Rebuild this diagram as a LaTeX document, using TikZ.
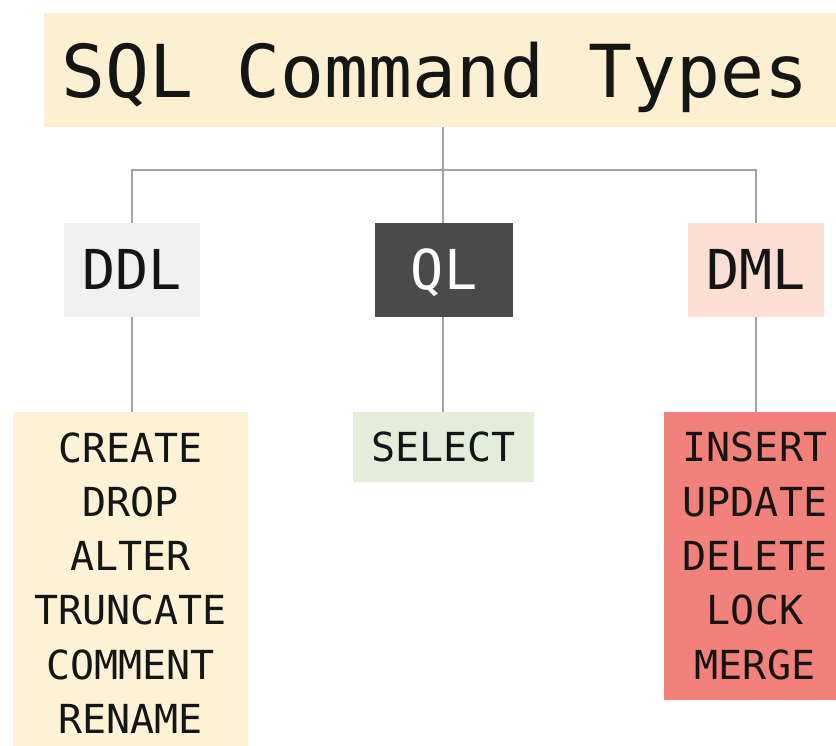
\documentclass[tikz,border=0pt]{standalone}
\usepackage{fontspec}
\setmainfont{DejaVu Sans Mono}
\definecolor{titlebg}{HTML}{FCEFD2}
\definecolor{ddlbg}{HTML}{F1F1F1}
\definecolor{qlbg}{HTML}{4A4A4A}
\definecolor{dmlbg}{HTML}{FADFD2}
\definecolor{ddlitemsbg}{HTML}{FDF1D6}
\definecolor{selbg}{HTML}{E2EDDA}
\definecolor{dmlitemsbg}{HTML}{F2817C}
\definecolor{linecol}{HTML}{A0A4A8}
\definecolor{txt}{HTML}{151515}
\tikzset{
  catbox/.style={minimum width=136pt, minimum height=94pt, inner sep=0pt, text height=40pt, text depth=0pt,
    font=\fontsize{55}{60}\selectfont, text=txt},
  itembox/.style={inner sep=0pt, align=center, font=\fontsize{40}{54.3}\selectfont, text=txt},
  conn/.style={draw=linecol, line width=1.4pt}
}
\begin{document}
\begin{tikzpicture}[x=1pt,y=-1pt]
\useasboundingbox[fill=white] (0,0) rectangle (836,746);
\node[fill=titlebg, anchor=north west, inner xsep=17pt, inner ysep=0pt, text width=783pt, align=left,
  minimum height=114pt, text height=55pt, text depth=0pt, font=\fontsize{73}{80}\selectfont, text=txt]
  (title) at (44,13) {SQL\hspace{0.602em}Command\hspace{0.602em}Types};
\node[catbox, fill=ddlbg] (ddl) at (132,270) {DDL};
\node[catbox, fill=qlbg, minimum width=138pt, text=white] (ql) at (444,270) {QL};
\node[catbox, fill=dmlbg] (dml) at (756,270) {DML};
\node[itembox, fill=ddlitemsbg, minimum width=235pt, minimum height=342pt] (ddlitems) at (130.5,583)
  {CREATE\\DROP\\ALTER\\TRUNCATE\\COMMENT\\RENAME};
\node[itembox, fill=selbg, minimum width=181pt, minimum height=70pt, text height=29.2pt, text depth=0pt] (sel) at (443.5,447) {SELECT};
\node[itembox, fill=dmlitemsbg, minimum width=182pt, minimum height=288pt] (dmlitems) at (755,556)
  {INSERT\\UPDATE\\DELETE\\LOCK\\MERGE};
\coordinate (hub) at (443,170);
\draw[conn] (title.south -| hub) -- (hub);
\draw[conn] (ddl.north) |- (hub) -| (dml.north);
\draw[conn] (hub) -- (ql.north -| hub);
\draw[conn] (ddl.south) -- (ddl.south |- ddlitems.north);
\draw[conn] (ql.south -| hub) -- (hub |- sel.north);
\draw[conn] (dml.south) -- (dml.south |- dmlitems.north);
\end{tikzpicture}
\end{document}
